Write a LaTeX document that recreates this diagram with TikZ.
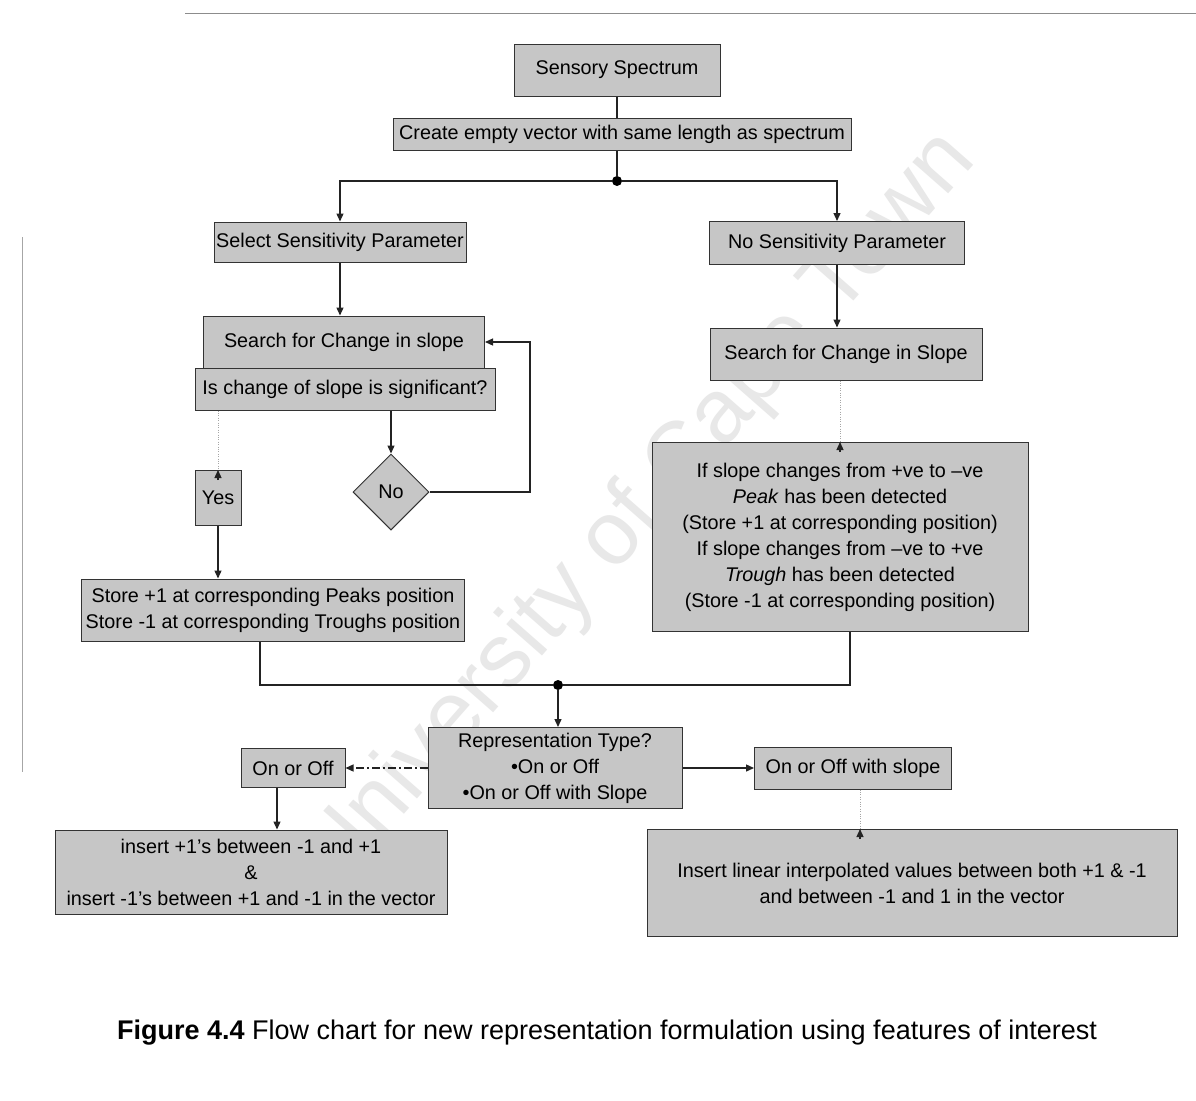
\documentclass[tikz,border=0pt]{standalone}
\usepackage{fontspec}
\setmainfont{Liberation Sans}
\usetikzlibrary{shapes.geometric,arrows.meta}
\definecolor{boxfill}{RGB}{198,198,198}
\definecolor{lineclr}{RGB}{35,35,35}
\begin{document}
\begin{tikzpicture}[x=1pt,y=-1pt,
  box/.style={draw=black!80, fill=boxfill, line width=1pt, inner sep=0pt, align=center,
              font=\fontsize{19.8}{26}\selectfont},
  conn/.style={draw=lineclr, line width=1.3pt},
  arr/.style={conn, -{Triangle[length=8pt,width=7pt]}},
  faint/.style={draw=black!35, dotted},
  jdot/.style={circle, fill=black, inner sep=0pt, minimum size=10pt}]
\useasboundingbox (0,0) rectangle (1196,1100);
\fill[white] (0,0) rectangle (1196,1100);

% watermark
\node[rotate=48.7, text=black!9, font=\fontsize{90}{90}\selectfont] (wm) at (640,510) {University of Cape Town};

% page rules of the scan
\draw[black!45, line width=1pt] (185,13) -- (1196,13);
\draw[black!35, line width=0.8pt] (22,237) -- (22,772);

% nodes
\node[box, minimum width=206pt, minimum height=52pt] (ss) at (617,70) {Sensory Spectrum};
\node[box, minimum width=458pt, minimum height=32pt] (cev) at (622,134) {Create empty vector with same length as spectrum};
\node[box, minimum width=252pt, minimum height=40pt] (sel) at (340,242) {Select Sensitivity Parameter};
\node[box, minimum width=255pt, minimum height=43pt] (nsp) at (837,243) {No Sensitivity Parameter};
\node[box, minimum width=281pt, minimum height=52pt] (srch) at (344,342) {Search for Change in slope};
\node[box, minimum width=300pt, minimum height=42pt] (isg) at (345,389) {Is change of slope is significant?};
\node[box, shape=diamond, minimum width=76pt, minimum height=76pt] (no) at (391,492) {No};
\node[box, minimum width=46pt, minimum height=55pt] (yes) at (218,498) {Yes};
\node[box, minimum width=383pt, minimum height=62pt] (store) at (273,610)
  {Store +1 at corresponding Peaks position\\Store -1 at corresponding Troughs position};
\node[box, minimum width=272pt, minimum height=52pt] (srch2) at (846,354) {Search for Change in Slope};
\node[box, minimum width=376pt, minimum height=189pt] (ifb) at (840,537)
  {If slope changes from +ve to –ve\\\textit{Peak} has been detected\\(Store +1 at corresponding position)\\If slope changes from –ve to +ve\\\textit{Trough} has been detected\\(Store -1 at corresponding position)};
\node[box, minimum width=254pt, minimum height=81pt] (rep) at (555,768)
  {Representation Type?\\•On or Off\\•On or Off with Slope};
\node[box, minimum width=104pt, minimum height=39pt] (onoff) at (293,768) {On or Off};
\node[box, minimum width=197pt, minimum height=42pt] (onslope) at (853,768) {On or Off with slope};
\node[box, minimum width=392pt, minimum height=84pt] (ins1) at (251,872)
  {insert +1's between -1 and +1\\\&\\insert -1's between +1 and -1 in the vector};
\node[box, minimum width=530pt, minimum height=107pt] (ins2) at (912,883)
  {Insert linear interpolated values between both +1 \& -1\\and between -1 and 1 in the vector};

\node[jdot] (j1) at (617,181) {};
\node[jdot] (j2) at (558,685) {};
\coordinate (loop) at (530,0);

% connectors
\draw[conn] (ss.south) -- (ss.south |- cev.north);
\draw[conn] (j1 |- cev.south) -- (j1);
\draw[arr] (j1) -| (sel.north);
\draw[arr] (j1) -| (nsp.north);
\draw[arr] (sel.south) -- (sel.south |- srch.north);
\draw[arr] (no.north |- isg.south) -- (no.north);
\draw[arr] (no.east) -- (no.east -| loop) |- (srch.east);
\draw[faint] (yes.north |- isg.south) -- ([yshift=-10pt]yes.north);
\draw[arr] ([yshift=-10pt]yes.north) -- (yes.north);
\draw[arr] (yes.south) -- (yes.south |- store.north);
\draw[arr] (nsp.south) -- (nsp.south |- srch2.north);
\draw[faint] (ifb.north |- srch2.south) -- ([yshift=-10pt]ifb.north);
\draw[arr] ([yshift=-10pt]ifb.north) -- (ifb.north);
\draw[conn] ([xshift=-13pt]store.south) |- (j2);
\draw[conn] ([xshift=10pt]ifb.south) |- (j2);
\draw[arr] (j2) -- (j2 |- rep.north);
\draw[arr, dash pattern=on 8pt off 3pt on 2pt off 3pt] (rep.west) -- (onoff.east);
\draw[arr] ([xshift=-16pt]onoff.south) -- ([xshift=-16pt]onoff.south |- ins1.north);
\draw[arr] (rep.east) -- (onslope.west);
\draw[faint] ([xshift=7pt]onslope.south) -- ([xshift=7pt,yshift=-10pt]onslope.south |- ins2.north);
\draw[arr] ([xshift=7pt,yshift=-10pt]onslope.south |- ins2.north) -- ([xshift=7pt]onslope.south |- ins2.north);

% caption
\node[font=\fontsize{27}{31}\selectfont] (cap) at (607,1033)
  {\textbf{Figure 4.4} Flow chart for new representation formulation using features of interest};
\end{tikzpicture}
\end{document}
